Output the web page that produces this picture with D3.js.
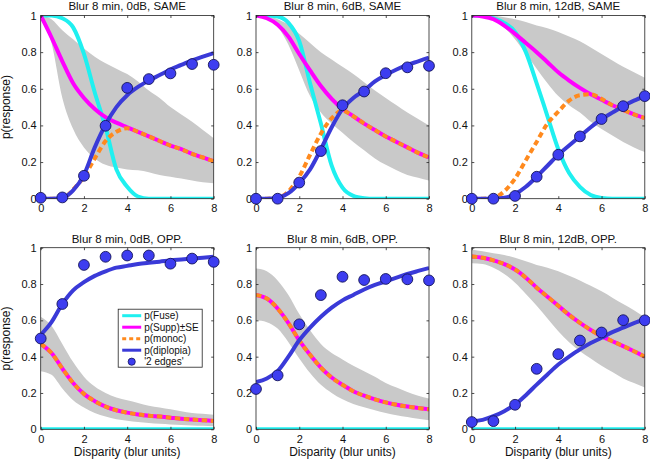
<!DOCTYPE html>
<html>
<head>
<meta charset="utf-8">
<script src="https://cdn.jsdelivr.net/npm/d3@7"></script>
<style>
  html, body { margin: 0; padding: 0; background: #fff; }
  svg { display: block; font-family: "Liberation Sans", Arial, Helvetica, sans-serif; }
</style>
</head>
<body>
<svg id="chart" width="650" height="461"></svg>
<script>
// ---------------- DATA ----------------
const panelTitles = [
  "Blur 8 min, 0dB, SAME", "Blur 8 min, 6dB, SAME", "Blur 8 min, 12dB, SAME",
  "Blur 8 min, 0dB, OPP.", "Blur 8 min, 6dB, OPP.", "Blur 8 min, 12dB, OPP."
];
const disparity = [0,0.5,1,1.5,2,2.5,3,3.5,4,4.5,5,5.5,6,6.5,7,7.5,8];
const dotDisparity = [0,1,2,3,4,5,6,7,8];
const xTicks = [0,2,4,6,8];
const yTicks = [0,0.2,0.4,0.6,0.8,1];
const legendLabels = ["p(Fuse)", "p(Supp)\u00b1SE", "p(monoc)", "p(diplopia)", "'2 edges'"];

// p(Fuse) per panel
const pFuse = [
  [1,1,0.985,0.935,0.79,0.58,0.39,0.16,0.065,0.012,0,0,0,0,0,0,0],
  [1,1,0.995,0.96,0.86,0.63,0.41,0.18,0.06,0.015,0.003,0,0,0,0,0,0],
  [1,1,0.985,0.96,0.91,0.8,0.63,0.45,0.27,0.14,0.065,0.02,0.004,0,0,0,0],
  [0,0,0,0,0,0,0,0,0,0,0,0,0,0,0,0,0],
  [0,0,0,0,0,0,0,0,0,0,0,0,0,0,0,0,0],
  [0,0,0,0,0,0,0,0,0,0,0,0,0,0,0,0,0]
];
// p(Supp)
const pSupp = [
  [1,0.88,0.75,0.63,0.55,0.49,0.445,0.415,0.39,0.365,0.34,0.315,0.29,0.27,0.245,0.225,0.205],
  [1,0.985,0.95,0.885,0.79,0.7,0.615,0.545,0.49,0.45,0.41,0.375,0.34,0.31,0.28,0.25,0.225],
  [1,0.995,0.98,0.945,0.9,0.85,0.8,0.745,0.69,0.645,0.605,0.57,0.54,0.51,0.485,0.46,0.44],
  [0.47,0.42,0.335,0.255,0.195,0.155,0.125,0.105,0.092,0.082,0.075,0.07,0.064,0.058,0.054,0.05,0.046],
  [0.74,0.72,0.665,0.585,0.49,0.41,0.34,0.285,0.245,0.21,0.185,0.165,0.148,0.135,0.125,0.117,0.11],
  [0.952,0.945,0.93,0.91,0.88,0.835,0.78,0.73,0.68,0.63,0.586,0.547,0.513,0.485,0.458,0.43,0.4]
];
// p(Supp) + SE (upper edge of grey band)
const suppUpper = [
  [1,0.98,0.92,0.87,0.82,0.775,0.74,0.71,0.68,0.64,0.59,0.55,0.5,0.46,0.42,0.375,0.33],
  [1,1,0.98,0.95,0.9,0.85,0.8,0.76,0.72,0.68,0.635,0.59,0.55,0.51,0.47,0.435,0.4],
  [1,1,1,0.99,0.98,0.965,0.945,0.93,0.91,0.885,0.86,0.825,0.79,0.755,0.72,0.69,0.66],
  [0.62,0.57,0.47,0.37,0.29,0.235,0.2,0.175,0.16,0.145,0.13,0.12,0.11,0.1,0.09,0.085,0.08],
  [0.885,0.87,0.82,0.74,0.635,0.545,0.47,0.42,0.385,0.35,0.32,0.29,0.255,0.23,0.205,0.185,0.17],
  [0.99,0.98,0.97,0.96,0.945,0.925,0.905,0.89,0.87,0.845,0.82,0.79,0.76,0.725,0.69,0.655,0.615]
];
// p(Supp) - SE (lower edge of grey band)
const suppLower = [
  [1,0.85,0.55,0.38,0.28,0.22,0.185,0.17,0.16,0.155,0.145,0.13,0.12,0.11,0.1,0.09,0.085],
  [1,0.99,0.94,0.84,0.7,0.56,0.47,0.41,0.36,0.31,0.265,0.22,0.185,0.155,0.13,0.115,0.1],
  [1,0.995,0.975,0.935,0.87,0.79,0.71,0.63,0.56,0.51,0.47,0.42,0.38,0.345,0.31,0.28,0.255],
  [0.32,0.3,0.225,0.16,0.12,0.09,0.07,0.055,0.047,0.04,0.035,0.03,0.027,0.024,0.021,0.019,0.017],
  [0.6,0.59,0.555,0.48,0.39,0.31,0.245,0.2,0.165,0.14,0.122,0.105,0.09,0.078,0.068,0.058,0.05],
  [0.915,0.91,0.89,0.855,0.807,0.745,0.68,0.61,0.54,0.48,0.43,0.39,0.35,0.315,0.28,0.255,0.23]
];
// p(monoc)
const pMonoc = [
  [0,0,0.002,0.05,0.12,0.22,0.315,0.365,0.385,0.365,0.34,0.315,0.29,0.27,0.245,0.225,0.205],
  [0,0,0.005,0.04,0.12,0.24,0.355,0.44,0.48,0.45,0.41,0.375,0.34,0.31,0.28,0.25,0.225],
  [0,0,0.005,0.04,0.11,0.21,0.31,0.41,0.475,0.535,0.565,0.57,0.545,0.51,0.485,0.46,0.44],
  [0.47,0.42,0.335,0.255,0.195,0.155,0.125,0.105,0.092,0.082,0.075,0.07,0.064,0.058,0.054,0.05,0.046],
  [0.74,0.72,0.665,0.585,0.49,0.41,0.34,0.285,0.245,0.21,0.185,0.165,0.148,0.135,0.125,0.117,0.11],
  [0.952,0.945,0.93,0.91,0.88,0.835,0.78,0.73,0.68,0.63,0.586,0.547,0.513,0.485,0.458,0.43,0.4]
];
// p(diplopia)
const pDiplopia = [
  [0,0,0.005,0.045,0.13,0.28,0.405,0.5,0.565,0.61,0.645,0.675,0.705,0.73,0.755,0.775,0.795],
  [0,0,0.005,0.03,0.085,0.16,0.27,0.39,0.49,0.55,0.59,0.64,0.675,0.705,0.73,0.75,0.77],
  [0,0,0,0.005,0.025,0.065,0.12,0.18,0.24,0.29,0.34,0.39,0.435,0.47,0.505,0.535,0.56],
  [0.52,0.59,0.69,0.765,0.81,0.845,0.87,0.89,0.9,0.91,0.917,0.923,0.93,0.935,0.94,0.945,0.95],
  [0.26,0.28,0.32,0.4,0.49,0.56,0.62,0.67,0.71,0.74,0.77,0.795,0.815,0.835,0.855,0.872,0.888],
  [0.044,0.052,0.072,0.1,0.136,0.188,0.246,0.302,0.357,0.4,0.44,0.475,0.504,0.535,0.56,0.585,0.605]
];
// '2 edges' data points
const twoEdges = [
  [0.005,0.007,0.125,0.398,0.605,0.653,0.684,0.735,0.731],
  [0,0,0.088,0.26,0.51,0.585,0.685,0.717,0.725],
  [0,0,0.015,0.12,0.24,0.34,0.435,0.505,0.56],
  [0.5,0.69,0.905,0.95,0.957,0.957,0.912,0.94,0.922],
  [0.222,0.297,0.578,0.739,0.84,0.822,0.828,0.826,0.82],
  [0.04,0.045,0.135,0.333,0.414,0.489,0.533,0.601,0.6]
];

// ---------------- STYLE / LAYOUT ----------------
const C = {
  fuse: "#1ff0f0", supp: "#ff00ff", monoc: "#ff8a1e",
  dipl: "#3a3ad8", dotFill: "#3d3df0", dotStroke: "#15155a", band: "#c9c9c9"
};
const colLeft = [40.7, 256, 471.8];
const plotW = 173;
const rowTop = [15.5, 247.7];
const rowBottom = [198.7, 429.3];

const svg = d3.select("#chart");
const defs = svg.append("defs");

panelTitles.forEach((title, i) => {
  const col = i % 3, row = Math.floor(i / 3);
  const left = colLeft[col], top = rowTop[row], bottom = rowBottom[row];
  const x = d3.scaleLinear().domain([0, 8]).range([left, left + plotW]);
  const y = d3.scaleLinear().domain([0, 1]).range([bottom, top]);

  const clipId = "clip" + i;
  defs.append("clipPath").attr("id", clipId)
    .append("rect").attr("x", left).attr("y", top)
    .attr("width", plotW).attr("height", bottom - top);

  const g = svg.append("g");
  const inner = g.append("g").attr("clip-path", `url(#${clipId})`);

  const pts = arr => disparity.map((d, k) => ({ x: d, v: arr[k] }));
  const line = d3.line().x(d => x(d.x)).y(d => y(d.v)).curve(d3.curveMonotoneX);
  const band = d3.area()
    .x(d => x(d.x)).y0(d => y(d.lo)).y1(d => y(d.hi)).curve(d3.curveMonotoneX);

  inner.append("path")
    .datum(disparity.map((d, k) => ({ x: d, lo: suppLower[i][k], hi: suppUpper[i][k] })))
    .attr("d", band).attr("fill", C.band).attr("stroke", "none");

  inner.append("path").datum(pts(pFuse[i])).attr("d", line)
    .attr("fill", "none").attr("stroke", C.fuse).attr("stroke-width", 4);
  inner.append("path").datum(pts(pSupp[i])).attr("d", line)
    .attr("fill", "none").attr("stroke", C.supp).attr("stroke-width", 4);
  inner.append("path").datum(pts(pMonoc[i])).attr("d", line)
    .attr("fill", "none").attr("stroke", C.monoc).attr("stroke-width", 4)
    .attr("stroke-dasharray", "5.5,3.5");
  inner.append("path").datum(pts(pDiplopia[i])).attr("d", line)
    .attr("fill", "none").attr("stroke", C.dipl).attr("stroke-width", 4);

  // box
  g.append("rect").attr("x", left).attr("y", top)
    .attr("width", plotW).attr("height", bottom - top)
    .attr("fill", "none").attr("stroke", "#222").attr("stroke-width", 0.8);

  // axes (inward ticks, MATLAB style)
  const axB = g.append("g").attr("transform", `translate(0,${bottom})`)
    .call(d3.axisBottom(x).tickValues(xTicks).tickSize(-2.5).tickPadding(5.5).tickFormat(d3.format("d")));
  const axL = g.append("g").attr("transform", `translate(${left},0)`)
    .call(d3.axisLeft(y).tickValues(yTicks).tickSize(-2.5).tickPadding(4).tickFormat(d => String(d)));
  const axT = g.append("g").attr("transform", `translate(0,${top})`)
    .call(d3.axisTop(x).tickValues(xTicks).tickSize(-2.5).tickFormat(""));
  const axR = g.append("g").attr("transform", `translate(${left + plotW},0)`)
    .call(d3.axisRight(y).tickValues(yTicks).tickSize(-2.5).tickFormat(""));
  [axB, axL, axT, axR].forEach(a => {
    a.select(".domain").remove();
    a.selectAll(".tick line").attr("stroke", "#222").attr("stroke-width", 0.8);
    a.selectAll(".tick text").attr("fill", "#111").style("font-size", "11px")
      .style("font-family", '"Liberation Sans", Arial, sans-serif');
  });

  // data points (not clipped)
  g.selectAll("circle.pt").data(dotDisparity.map((d, k) => ({ x: d, v: twoEdges[i][k] })))
    .join("circle").attr("class", "pt")
    .attr("cx", d => x(d.x)).attr("cy", d => y(d.v)).attr("r", 5.4)
    .attr("fill", C.dotFill).attr("stroke", C.dotStroke).attr("stroke-width", 0.9);

  // title
  g.append("text").attr("x", (left + left + plotW) / 2).attr("y", top - 5.2)
    .attr("text-anchor", "middle").style("font-size", "11.5px").attr("fill", "#111")
    .text(title);

  if (col === 0) {
    g.append("text")
      .attr("transform", `translate(10,${(top + bottom) / 2}) rotate(-90)`)
      .attr("text-anchor", "middle").style("font-size", "12px").attr("fill", "#111")
      .text("p(response)");
  }
  if (row === 1) {
    g.append("text").attr("x", (left + left + plotW) / 2).attr("y", 456)
      .attr("text-anchor", "middle").style("font-size", "12px").attr("fill", "#111")
      .text("Disparity (blur units)");
  }

  // legend in the first OPP panel
  if (i === 3) {
    const lx = left + 77.5, ly = top + 61.5, lw = 84, lh = 58;
    const lg = g.append("g");
    lg.append("rect").attr("x", lx).attr("y", ly).attr("width", lw).attr("height", lh)
      .attr("fill", "#fff").attr("stroke", "#222").attr("stroke-width", 0.8);
    const styles = [
      { c: C.fuse }, { c: C.supp }, { c: C.monoc, dash: "4,3" }, { c: C.dipl }, { dot: true }
    ];
    legendLabels.forEach((lab, k) => {
      const yy = ly + 6.5 + k * 11.5;
      const s = styles[k];
      if (s.dot) {
        lg.append("circle").attr("cx", lx + 13.5).attr("cy", yy).attr("r", 3.6)
          .attr("fill", C.dotFill).attr("stroke", C.dotStroke).attr("stroke-width", 0.8);
      } else {
        lg.append("line").attr("x1", lx + 4).attr("x2", lx + 23).attr("y1", yy).attr("y2", yy)
          .attr("stroke", s.c).attr("stroke-width", 3)
          .attr("stroke-dasharray", s.dash || null);
      }
      lg.append("text").attr("x", lx + 26).attr("y", yy + 3.5)
        .style("font-size", "10px").attr("fill", "#111").text(lab);
    });
  }
});
</script>
</body>
</html>
